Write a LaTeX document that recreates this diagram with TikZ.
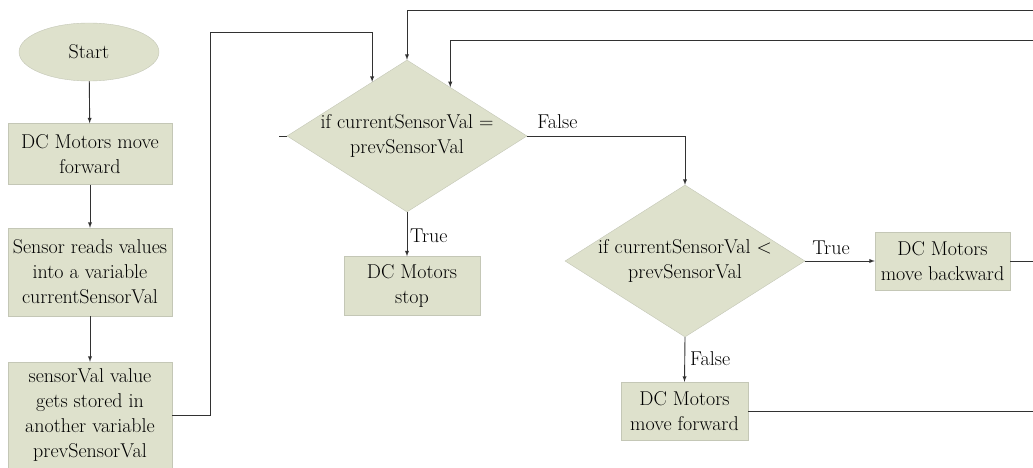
\documentclass[tikz,border=0pt]{standalone}
\usetikzlibrary{shapes.geometric}
\usetikzlibrary{positioning}
\usetikzlibrary{calc}

\begin{document}
\begin{tikzpicture}[x=1pt, y=-1pt, >=latex, every node/.style={font=\fontsize{20}{25}\selectfont}]
		% Flowchart of the sensor controlled DC motors

% Colors
\definecolor{boxfill}{RGB}{222,225,204}
\definecolor{boxline}{RGB}{196,199,182}
\definecolor{wire}{RGB}{50,50,50}

\tikzset{
  box/.style={draw=boxline, fill=boxfill, align=center, inner sep=0pt},
  test/.style={diamond, draw=boxline, fill=boxfill, align=center, inner sep=-2pt, aspect=1.58, minimum width=240, minimum height=152},
  wired/.style={draw=wire, line width=0.9pt},
  lbl/.style={inner sep=0pt}
}

\useasboundingbox (0,0) rectangle (1033,468);

% Outline
\coordinate (r1) at (1033,10);
\coordinate (r2) at (1033,40);
\coordinate (j1) at (210,32);
\coordinate (s1) at (279,136);

% Nodes
\node[ellipse, draw=boxline, fill=boxfill, minimum width=140, minimum height=58] (start) at (89,52) {Start};
\node[box, minimum width=164, minimum height=61] (fwd1) at (90,154) {DC Motors move\\forward};
\node[box, minimum width=164, minimum height=88] (read) at (90,272) {Sensor reads values\\into a variable\\currentSensorVal};
\node[box, minimum width=164, minimum height=106] (store) at (90,415) {sensorVal value\\gets stored in\\another variable\\prevSensorVal};

\node[test] (equal) at (407,136) {if currentSensorVal =\\prevSensorVal};
\node[box, minimum width=136, minimum height=59] (stop) at (412,286) {DC Motors\\stop};
\node[test] (less) at (685,261) {if currentSensorVal <\\prevSensorVal};
\node[box, minimum width=135, minimum height=58] (back) at (942.5,261) {DC Motors\\move backward};
\node[box, minimum width=127, minimum height=58] (fwd2) at (684.5,411) {DC Motors\\move forward};

% Labels
\node[lbl, above right=7pt and 10pt of equal.east] (f1) {False};
\node[lbl, below right=16pt and 3pt of equal.south] (t1) {True};
\node[lbl, above right=6pt and 7pt of less.east] (t2) {True};
\node[lbl, below right=14pt and 5pt of less.south] (f2) {False};

% Connections
\draw[wired,->] (start) -- (fwd1);
\draw[wired,->] (fwd1) -- (read);
\draw[wired,->] (read) -- (store);
\draw[wired,->] (store.east) -| (j1) -| ($(equal.west)!0.71!(equal.north)$);
\draw[wired,->] (r1) -| (equal.north);
\draw[wired,->] (r2) -| ($(equal.north)!0.36!(equal.east)$);
\draw[wired] (s1) -- (equal.west);
\draw[wired,->] (equal.east) -| (less.north);
\draw[wired,->] (equal.south) -- (equal.south |- stop.north);
\draw[wired,->] (less.east) -- (back.west);
\draw[wired,->] (less.south) -- (fwd2.north);
\draw[wired] (back.east) -- (back.east -| r1);
\draw[wired] (fwd2.east) -- (fwd2.east -| r1);
	\end{tikzpicture}
\end{document}
